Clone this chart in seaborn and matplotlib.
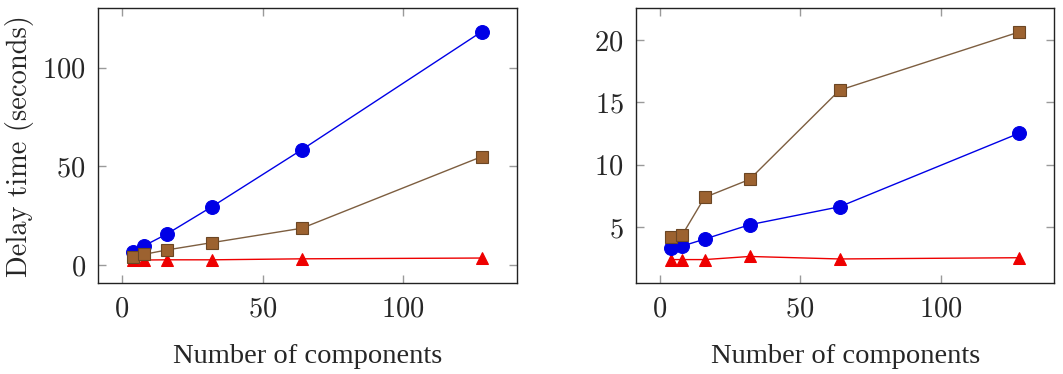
import matplotlib
matplotlib.use("Agg")
import matplotlib.pyplot as plt
import seaborn as sns
import numpy as np

# ---- data ----
components = [4, 8, 16, 32, 64, 128]

left_blue = [6.7, 9.8, 15.7, 29.5, 58.4, 118.2]
left_brown = [3.9, 5.4, 7.6, 11.3, 18.6, 54.9]
left_red = [2.5, 2.5, 2.6, 2.6, 3.1, 3.5]

right_blue = [3.35, 3.48, 4.04, 5.19, 6.63, 12.53]
right_brown = [4.18, 4.36, 7.38, 8.82, 15.97, 20.64]
right_red = [2.4, 2.4, 2.4, 2.65, 2.45, 2.55]

left_yticks = [0, 50, 100]
right_yticks = [5, 10, 15, 20]
xticks = [0, 50, 100]

xlabel = "Number of components"
ylabel = "Delay time (seconds)"

# ---- style ----
sns.set_style("ticks")
plt.rcParams["font.family"] = ["cmr10", "DejaVu Serif"]
plt.rcParams["axes.formatter.use_mathtext"] = True

FS = 20.5
BLUE = "#0000e6"
BROWN_FILL = "#9c6230"
BROWN_EDGE = "#6b4624"
BROWN_LINE = "#7d5e40"
RED = "#ee0000"

fig = plt.figure(figsize=(10.63, 3.74), dpi=100)
ax1 = fig.add_axes([0.0925, 0.2425, 0.3936, 0.7353])
ax2 = fig.add_axes([0.5983, 0.2425, 0.3935, 0.7353])


def draw(ax, blue, brown, red):
    sns.lineplot(x=components, y=red, ax=ax, color=RED, lw=1.0, marker="^",
                 markersize=9, markerfacecolor=RED, markeredgecolor=RED, zorder=3)
    sns.lineplot(x=components, y=blue, ax=ax, color=BLUE, lw=1.0, marker="o",
                 markersize=10, markerfacecolor=BLUE, markeredgecolor=BLUE, zorder=4)
    sns.lineplot(x=components, y=brown, ax=ax, color=BROWN_LINE, lw=1.0, marker="s",
                 markersize=8.5, markerfacecolor=BROWN_FILL, markeredgecolor=BROWN_EDGE,
                 markeredgewidth=0.8, zorder=5)
    ax.set_xlim(-8.4, 140.4)
    ax.set_xticks(xticks)
    ax.tick_params(axis="both", which="major", direction="in", length=6, width=1.0,
                   color="#9a9a9a", top=True, right=True, labelsize=FS, pad=9)
    for s in ax.spines.values():
        s.set_linewidth(1.0)
        s.set_color("#222222")
    ax.set_xlabel(xlabel, fontsize=FS, family="Liberation Serif", labelpad=16)


draw(ax1, left_blue, left_brown, left_red)
ax1.set_ylim(-9.3, 130)
ax1.set_yticks(left_yticks)
ax1.set_ylabel(ylabel, fontsize=FS, labelpad=6)

draw(ax2, right_blue, right_brown, right_red)
ax2.set_ylim(0.5, 22.53)
ax2.set_yticks(right_yticks)
ax2.set_ylabel("")

fig.savefig("out.png", dpi=100)
